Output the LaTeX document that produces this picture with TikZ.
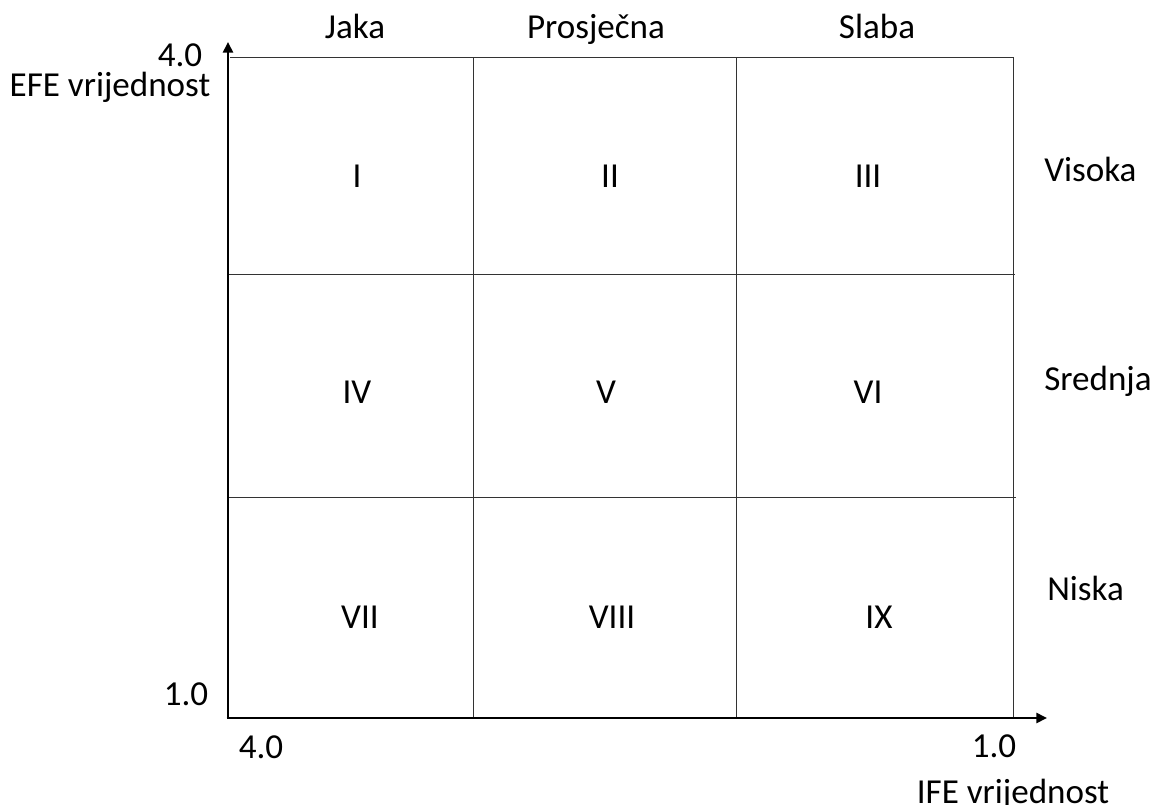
\documentclass[tikz,border=0pt]{standalone}
\usepackage{fontspec}
\setmainfont{Carlito}
\usetikzlibrary{arrows.meta}
\begin{document}
\begin{tikzpicture}[x=0.75pt,y=-0.75pt,
  axis/.style={line width=1.9pt,-{Triangle[length=8pt,width=7.5pt]}},
  gridline/.style={line width=0.75pt,black!80},
  lbl/.style={inner sep=0pt,anchor=base,font=\fontsize{26.3}{31}\selectfont},
  lblw/.style={lbl,anchor=base west}]
\useasboundingbox (0,0) rectangle (1155,805);
% coordinates
\coordinate (O) at (228,718);
\coordinate (ytop) at (228,42);
\coordinate (xend) at (1047,718);
% grid
\draw[gridline] (230,57.5) -- (1013,57.5) -- (1013,718);
\draw[gridline] (473,57.5) -- (473,718);
\draw[gridline] (736,57.5) -- (736,718);
\draw[gridline] (228,275) -- (1015,275);
\draw[gridline] (228,497) -- (1016,497);
% axes
\draw[axis] (O) -- (ytop);
\draw[axis] ([xshift=-0.95pt]O) -- (xend);
% column headers
\node[lbl] (jaka) at (355,39) {Jaka};
\node[lbl] (prosj) at (596,39) {Prosječna};
\node[lbl] (slaba) at (877,39) {Slaba};
% row headers
\node[lblw] (visoka) at (1044,182) {Visoka};
\node[lblw] (srednja) at (1044,390) {Srednja};
\node[lblw] (niska) at (1047,600) {Niska};
% axis labels
\node[lbl] (y4) at (180,67) {4.0};
\node[lbl] (efe) at (110,97) {EFE vrijednost};
\node[lbl] (y1) at (186,705) {1.0};
\node[lbl] (x4) at (261,758) {4.0};
\node[lbl] (x1) at (994,757) {1.0};
\node[lbl] (ife) at (1013,803) {IFE vrijednost};
% cells
\node[lbl] (c1) at (357,188) {I};
\node[lbl] (c2) at (610,188) {II};
\node[lbl] (c3) at (868,188) {III};
\node[lbl] (c4) at (357,403) {IV};
\node[lbl] (c5) at (606,403) {V};
\node[lbl] (c6) at (868,403) {VI};
\node[lbl] (c7) at (360,628) {VII};
\node[lbl] (c8) at (612,628) {VIII};
\node[lbl] (c9) at (879,628) {IX};
\end{tikzpicture}
\end{document}
